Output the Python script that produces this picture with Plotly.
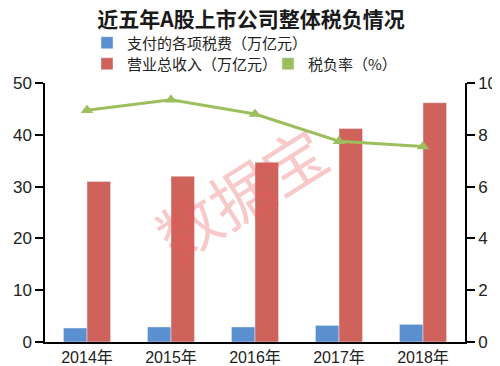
import plotly.graph_objects as go

years = ["2014年", "2015年", "2016年", "2017年", "2018年"]
tax_paid = [2.7, 2.9, 2.9, 3.2, 3.4]
revenue = [31.0, 32.0, 34.7, 41.2, 46.2]
tax_rate = [8.95, 9.35, 8.8, 7.75, 7.55]

name_tax = "支付的各项税费（万亿元）"
name_rev = "营业总收入（万亿元）"
name_rate = "税负率（%）"

BLUE = "#5A8FD0"
RED = "#D0625C"
GREEN = "#9DBE5C"
FONT = "Liberation Sans, Noto Sans CJK SC, sans-serif"
CJK = "Noto Sans CJK SC, sans-serif"
W, H = 492, 358   # page body has an 8px margin in a 500x366 window
OFF = 8

fig = go.Figure()
fig.add_trace(go.Bar(x=years, y=tax_paid, name=name_tax, marker=dict(color=BLUE),
                     legend="legend", yaxis="y"))
fig.add_trace(go.Bar(x=years, y=revenue, name=name_rev, marker=dict(color=RED),
                     legend="legend2", yaxis="y"))
fig.add_trace(go.Scatter(x=years, y=tax_rate, name=name_rate, mode="lines+markers",
                         line=dict(color=GREEN, width=3),
                         marker=dict(symbol="triangle-up", size=11, color=GREEN),
                         yaxis="y2", showlegend=False))
# legend entry as a square
fig.add_trace(go.Bar(x=[None], y=[None], name=name_rate, marker=dict(color=GREEN),
                     legend="legend3", yaxis="y2", showlegend=True))


def leg(xw, yw):
    return dict(x=(xw - OFF) / W, xref="container", y=1 - (yw - OFF) / H, yref="container",
                yanchor="middle", xanchor="left", orientation="h",
                font=dict(size=15, family=CJK, color="#222222"),
                bgcolor="rgba(0,0,0,0)", itemwidth=30)


fig.update_layout(
    width=W, height=H,
    margin=dict(l=45 - OFF, r=35, t=83 - OFF, b=24, autoexpand=False),
    paper_bgcolor="white", plot_bgcolor="white",
    font=dict(family=FONT, color="#222222"),
    title=dict(text="<b>近五年A股上市公司整体税负情况</b>", x=(251 - OFF) / W, xanchor="center",
               y=1 - (20 - OFF) / H, yanchor="middle",
               font=dict(size=21, color="#1a1a1a", family=CJK)),
    barmode="group", bargap=0.44, bargroupgap=0,
    legend=leg(87, 43),
    legend2=leg(87, 64),
    legend3=leg(268, 64),
    xaxis=dict(showline=True, linecolor="black", linewidth=1.5, ticks="",
               tickfont=dict(size=16, color="#222222"), showgrid=False),
    yaxis=dict(range=[0, 50], dtick=10, showline=True, linecolor="black", linewidth=1.5,
               ticks="outside", ticklen=8, tickcolor="black", tickwidth=1.5,
               tickfont=dict(size=17, color="#222222"), showgrid=False, zeroline=False),
    yaxis2=dict(range=[0, 10], dtick=2, overlaying="y", side="right", showline=True,
                linecolor="black", linewidth=1.5, ticks="outside", ticklen=8,
                tickcolor="black", tickwidth=1.5, tickfont=dict(size=17, color="#222222"),
                showgrid=False, zeroline=False),
)

fig.add_annotation(text="数据宝", x=0.464, y=0.58, xref="paper", yref="paper",
                   showarrow=False, textangle=-32,
                   font=dict(size=62, color="rgba(235,90,90,0.33)", family=CJK))

fig.write_html("out.html")
